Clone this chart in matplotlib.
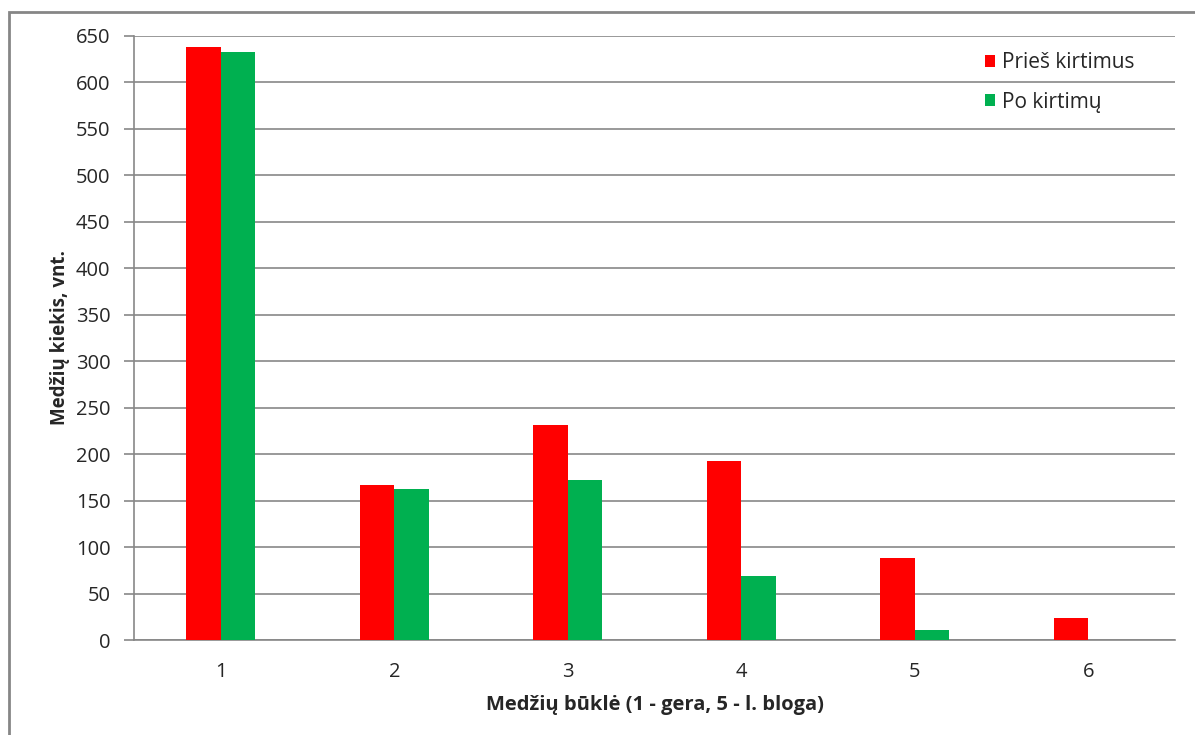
import matplotlib
matplotlib.use('Agg')
import matplotlib.pyplot as plt
from matplotlib.patches import Rectangle
import numpy as np

plt.rcParams['font.family'] = ['Open Sans', 'DejaVu Sans']

categories = ['1', '2', '3', '4', '5', '6']
pries = [638, 167, 231, 193, 88, 24]
po = [633, 162, 172, 69, 11, 0]
yticks = list(range(0, 651, 50))

grid_col = '#878787'
text_col = '#262626'

fig = plt.figure(figsize=(11.95, 7.35), dpi=100)
ax = fig.add_axes([134 / 1195, 95 / 735, 1041 / 1195, 604 / 735])

x = np.arange(1, len(categories) + 1)
w = 0.2
ax.bar(x - w / 2, pries, w, color='#ff0000', label='Prieš kirtimus', zorder=3)
ax.bar(x + w / 2, po, w, color='#00b050', label='Po kirtimų', zorder=3)

ax.set_xlim(0.5, 6.5)
ax.set_ylim(0, 650)
ax.set_yticks(yticks)
ax.set_xticks(x)
ax.set_xticklabels(categories)
ax.yaxis.grid(True, color=grid_col, linewidth=1.2, zorder=0)
ax.set_axisbelow(True)

for s in ['top', 'right']:
    ax.spines[s].set_visible(False)
ax.spines['left'].set_color(grid_col)
ax.spines['bottom'].set_color(grid_col)
ax.spines['left'].set_linewidth(1.2)
ax.spines['bottom'].set_linewidth(1.2)

ax.tick_params(axis='y', length=7, color=grid_col, width=1.2, labelsize=14.5, labelcolor=text_col, pad=10)
ax.tick_params(axis='x', length=0, labelsize=14.5, labelcolor=text_col, pad=16)

ax.set_ylabel('Medžių kiekis, vnt.', fontsize=13.5, fontweight='bold', color=text_col, labelpad=4)
ax.set_xlabel('Medžių būklė (1 - gera, 5 - l. bloga)', fontsize=14.5, fontweight='bold', color=text_col, labelpad=9)

leg = ax.legend(loc='upper left', bbox_to_anchor=((985 - 134) / 1041, (640 - 52) / 604), frameon=False,
                fontsize=15, borderpad=0, borderaxespad=0,
                handlelength=0.5, handleheight=0.5, handletextpad=0.3, labelspacing=0.9,
                labelcolor=text_col)

# outer chart border
fig.patches.append(Rectangle((9 / 1195, -0.05), 1.1, 1 - 12 / 735 + 0.05, transform=fig.transFigure,
                             fill=False, edgecolor='#868686', linewidth=2))

fig.savefig('out.png', dpi=100)
